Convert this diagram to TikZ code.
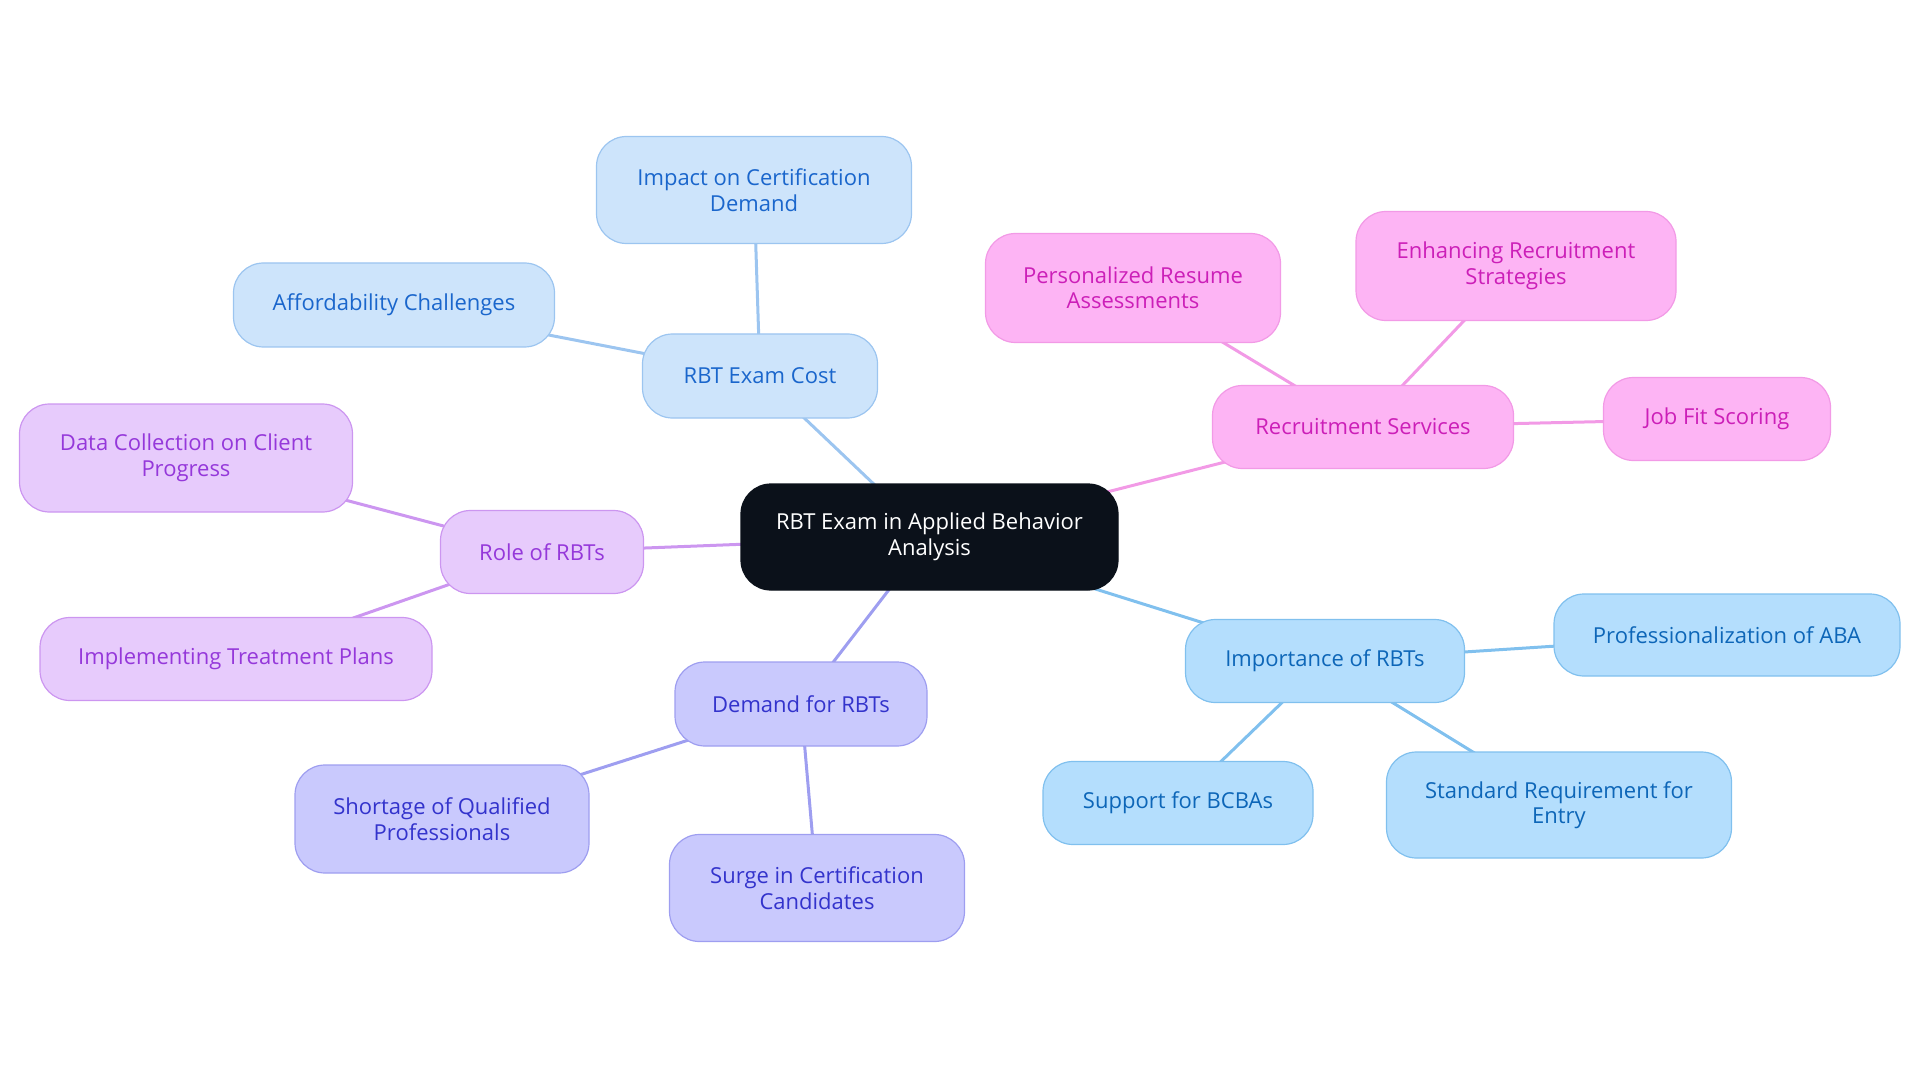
\documentclass[tikz,border=0pt]{standalone}
\usepackage{fontspec}
\setmainfont{Open Sans}
\usetikzlibrary{backgrounds}
\definecolor{cdark}{HTML}{0B111A}
\definecolor{aFill}{HTML}{CDE4FB}\definecolor{aDraw}{HTML}{9CC5F0}\definecolor{aText}{HTML}{1A66CC}
\definecolor{pFill}{HTML}{FDB4F4}\definecolor{pDraw}{HTML}{F29AE6}\definecolor{pText}{HTML}{CC1FB8}
\definecolor{vFill}{HTML}{E7CBFC}\definecolor{vDraw}{HTML}{CC96F0}\definecolor{vText}{HTML}{9538DA}
\definecolor{iFill}{HTML}{C9C9FD}\definecolor{iDraw}{HTML}{9E9EF0}\definecolor{iText}{HTML}{3333CC}
\definecolor{sFill}{HTML}{B4DEFD}\definecolor{sDraw}{HTML}{80C0EE}\definecolor{sText}{HTML}{0D66B8}
\tikzset{
  box/.style={rectangle, rounded corners=30pt, line width=1.2pt, align=center, inner sep=0pt,
    font=\fontsize{22}{25.5}\selectfont},
  centre/.style={box, fill=cdark, draw=cdark, text=white},
  bA/.style={box, fill=aFill, draw=aDraw, text=aText},
  bP/.style={box, fill=pFill, draw=pDraw, text=pText},
  bV/.style={box, fill=vFill, draw=vDraw, text=vText},
  bI/.style={box, fill=iFill, draw=iDraw, text=iText},
  bS/.style={box, fill=sFill, draw=sDraw, text=sText},
  link/.style={line width=3pt},
}
\begin{document}
\begin{tikzpicture}[x=1pt,y=-1pt]
\useasboundingbox (0,0) rectangle (1920,1083);
\node[centre, minimum width=377pt, minimum height=106pt] (c) at (929.5,537) {RBT Exam in Applied Behavior\\Analysis};
\node[bA, minimum width=235pt, minimum height=84pt] (cost) at (760,376) {RBT Exam Cost};
\node[bA, minimum width=315pt, minimum height=107pt] (impact) at (754,190) {Impact on Certification\\Demand};
\node[bA, minimum width=321pt, minimum height=84pt] (afford) at (394,305) {Affordability Challenges};
\node[bP, minimum width=301pt, minimum height=83pt] (recr) at (1363,427) {Recruitment Services};
\node[bP, minimum width=295pt, minimum height=109pt] (resume) at (1133,288) {Personalized Resume\\Assessments};
\node[bP, minimum width=320pt, minimum height=109pt] (enh) at (1516,266) {Enhancing Recruitment\\Strategies};
\node[bP, minimum width=227pt, minimum height=83pt] (jobfit) at (1717,419) {Job Fit Scoring};
\node[bV, minimum width=203pt, minimum height=83pt] (role) at (542,552) {Role of RBTs};
\node[bV, minimum width=333pt, minimum height=108pt] (data) at (186,458) {Data Collection on Client\\Progress};
\node[bV, minimum width=392pt, minimum height=83pt] (impl) at (236,659) {Implementing Treatment Plans};
\node[bI, minimum width=252pt, minimum height=84pt] (demand) at (801,704) {Demand for RBTs};
\node[bI, minimum width=294pt, minimum height=108pt] (short) at (442,819) {Shortage of Qualified\\Professionals};
\node[bI, minimum width=295pt, minimum height=107pt] (surge) at (817,888) {Surge in Certification\\Candidates};
\node[bS, minimum width=279pt, minimum height=83pt] (imp) at (1325,661) {Importance of RBTs};
\node[bS, minimum width=346pt, minimum height=82pt] (prof) at (1727,635) {Professionalization of ABA};
\node[bS, minimum width=270pt, minimum height=83pt] (bcba) at (1178,803) {Support for BCBAs};
\node[bS, minimum width=345pt, minimum height=106pt] (std) at (1559,805) {Standard Requirement for\\Entry};
\begin{scope}[on background layer]
\draw[link, aDraw] (c.center) -- (cost.center);
\draw[link, aDraw] (cost.center) -- (impact.center);
\draw[link, aDraw] (cost.center) -- (afford.center);
\draw[link, pDraw] (c.center) -- (recr.center);
\draw[link, pDraw] (recr.center) -- (resume.center);
\draw[link, pDraw] (recr.center) -- (enh.center);
\draw[link, pDraw] (recr.center) -- (jobfit.center);
\draw[link, vDraw] (c.center) -- (role.center);
\draw[link, vDraw] (role.center) -- (data.center);
\draw[link, vDraw] (role.center) -- (impl.center);
\draw[link, iDraw] (c.center) -- (demand.center);
\draw[link, iDraw] (demand.center) -- (short.center);
\draw[link, iDraw] (demand.center) -- (surge.center);
\draw[link, sDraw] (c.center) -- (imp.center);
\draw[link, sDraw] (imp.center) -- (prof.center);
\draw[link, sDraw] (imp.center) -- (bcba.center);
\draw[link, sDraw] (imp.center) -- (std.center);
\end{scope}
\end{tikzpicture}
\end{document}
